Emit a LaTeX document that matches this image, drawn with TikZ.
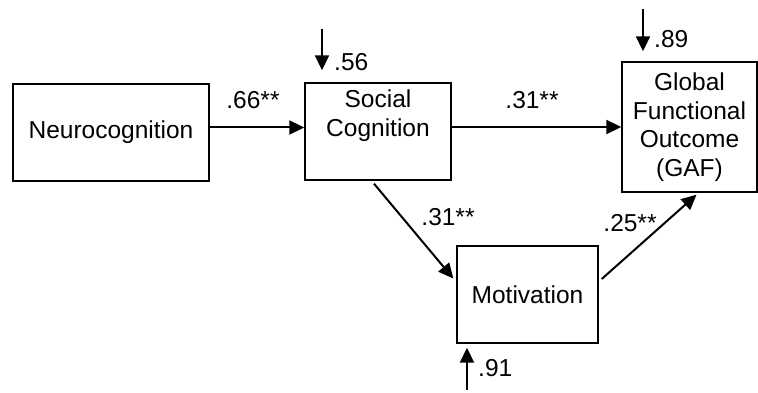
\documentclass[tikz,border=0pt]{standalone}
\usepackage{fontspec}
\setmainfont{Liberation Sans}
\usetikzlibrary{arrows.meta}
\begin{document}
\begin{tikzpicture}[x=1pt,y=-1pt,
  box/.style={draw,line width=1.4pt,align=center,inner sep=0pt,font=\fontsize{24.5}{28.5}\selectfont},
  arr/.style={line width=2pt,-{Triangle[length=15pt,width=14pt]}},
  lbl/.style={font=\fontsize{24.5}{28}\selectfont,inner sep=0pt}]
\useasboundingbox (0,0) rectangle (758,393);
\node[box,minimum width=196pt,minimum height=97pt] (neuro) at (111,132.5) {Neurocognition};
\node[box,minimum width=146pt,minimum height=97pt] (sc) at (378,131.5) {Social\\Cognition\\\strut};
\node[box,minimum width=135pt,minimum height=130pt] (gaf) at (689.5,127) {Global\\Functional\\Outcome\\(GAF)};
\node[box,minimum width=141pt,minimum height=97pt] (mot) at (527.5,294.5) {Motivation};
\draw[arr] ([yshift=5pt]neuro.east) -- ([yshift=5pt]neuro.east -| sc.west);
\draw[arr] (sc.east |- gaf.west) -- (gaf.west);
\draw[arr] ([xshift=-4pt,yshift=-3pt]sc.south) -- ([xshift=-3pt,yshift=16pt]mot.west);
\draw[arr] ([xshift=3pt,yshift=15.5pt]mot.east) -- ([xshift=7pt,yshift=-2pt]gaf.south);
\coordinate (e1) at (322,29);
\coordinate (e2) at (643,9);
\coordinate (e3) at (467,390);
\draw[arr,shorten >=12pt] (e1) -- (e1 |- sc.north);
\draw[arr,shorten >=10pt] (e2) -- (e2 |- gaf.north);
\draw[arr,shorten >=4pt] (e3) -- (e3 |- mot.south);
\node[lbl,anchor=west] (l56) at (334,62) {.56};
\node[lbl,anchor=west] (l89) at (654,39) {.89};
\node[lbl,anchor=west] (l91) at (478,368) {.91};
\node[lbl] (l66) at (253,100) {.66**};
\node[lbl] (l31a) at (532,100) {.31**};
\node[lbl] (l31b) at (448,217) {.31**};
\node[lbl] (l25) at (630,223) {.25**};
\end{tikzpicture}
\end{document}
